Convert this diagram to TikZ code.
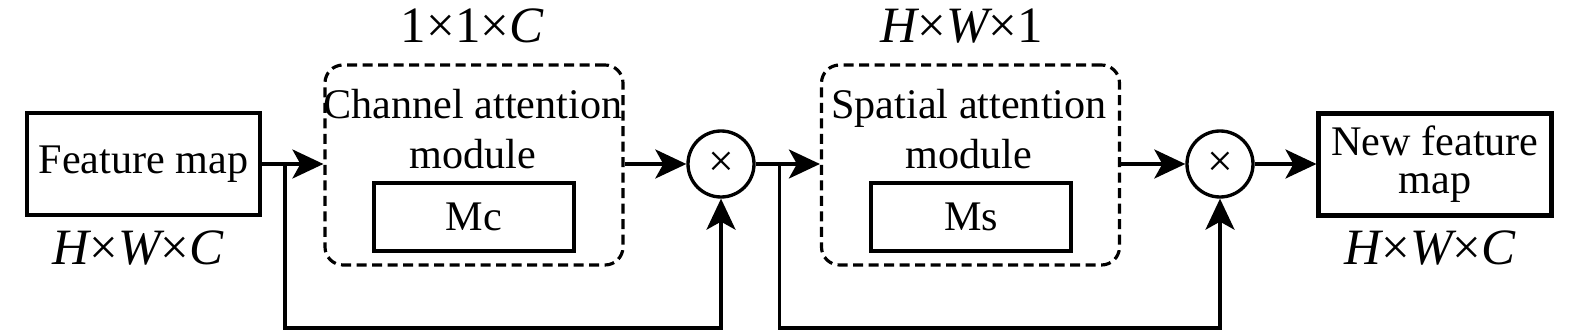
\documentclass[tikz,border=0pt]{standalone}
\usepackage{fontspec}
\setmainfont{Liberation Serif}
\usepackage{tikz}
\usetikzlibrary{positioning,calc,arrows.meta}

\begin{document}
\begin{tikzpicture}[
    >={Stealth[length=3.1mm,width=2.9mm,inset=0.8mm]},
    arrowline/.style={->, draw=black, line width=1pt},
    plainline/.style={-, draw=black, line width=1pt},
    mapbox/.style={draw, rectangle, line width=1.15pt, minimum width=2.33cm, minimum height=1.02cm, align=center, inner sep=0pt, font=\fontsize{12}{10.8}\selectfont},
    innerbox/.style={draw, rectangle, line width=1.15pt, minimum width=2.0cm, minimum height=0.68cm, inner sep=0pt, font=\fontsize{12}{14}\selectfont},
    modulebox/.style={draw, rectangle, rounded corners=0.18cm, line width=0.9pt, dash pattern=on 1mm off 0.55mm, minimum width=2.98cm, minimum height=2.0cm},
    moduletext/.style={align=center, inner sep=0pt, font=\fontsize{12}{14.2}\selectfont},
    mulnode/.style={draw, circle, line width=0.95pt, minimum size=0.66cm, inner sep=0pt, font=\fontsize{13}{13}\selectfont},
    dimlabel/.style={inner sep=0pt, font=\fontsize{14.5}{16}\selectfont}
]
\useasboundingbox (0,0) rectangle (15.75,-3.35);

% 输入特征图
\node[mapbox] (fmap) at (1.435,-1.64) {Feature map};
\node[dimlabel] (fmapdim) at (1.38,-2.48) {{\itshape H}×{\itshape W}×{\itshape C}};

% 通道注意力
\node[modulebox] (cam) at (4.74,-1.65) {};
\node[moduletext] (camtext) at (4.73,-1.29) {Channel attention\\module};
\node[innerbox] (mc) at (4.74,-2.17) {Mc};
\node[dimlabel] (camdim) at (4.72,-0.26) {1×1×{\itshape C}};

% 第一个乘法
\node[mulnode] (mul1) at (7.21,-1.64) {×};

% 空间注意力
\node[modulebox] (sam) at (9.705,-1.65) {};
\node[moduletext] (samtext) at (9.69,-1.29) {Spatial attention\\module};
\node[innerbox] (ms) at (9.71,-2.17) {Ms};
\node[dimlabel] (samdim) at (9.62,-0.26) {{\itshape H}×{\itshape W}×1};

% 第二个乘法
\node[mulnode] (mul2) at (12.20,-1.64) {×};

% 输出特征图
\node[mapbox] (newmap) at (14.35,-1.645) {New feature\\map};
\node[dimlabel] (newdim) at (14.30,-2.48) {{\itshape H}×{\itshape W}×{\itshape C}};

% 主干连线
\draw[arrowline] (fmap.east) -- (cam.west |- fmap.east);
\draw[arrowline] (cam.east |- mul1.west) -- (mul1.west);
\draw[arrowline] (mul1.east) -- (sam.west |- mul1.east);
\draw[arrowline] (sam.east |- mul2.west) -- (mul2.west);
\draw[arrowline] (mul2.east) -- (newmap.west |- mul2.east);

% 残差分支：先下，再右，再上
\coordinate (br1) at ($(fmap.east)+(0.23,0)$);
\coordinate (fb1) at ($(br1)+(0,-1.64)$);
\draw[arrowline] (br1) -- (fb1) -| (mul1.south);

\coordinate (br2) at ($(mul1.east)+(0.24,0)$);
\coordinate (fb2) at ($(br2)+(0,-1.64)$);
\draw[arrowline] (br2) -- (fb2) -| (mul2.south);

\end{tikzpicture}
\end{document}
